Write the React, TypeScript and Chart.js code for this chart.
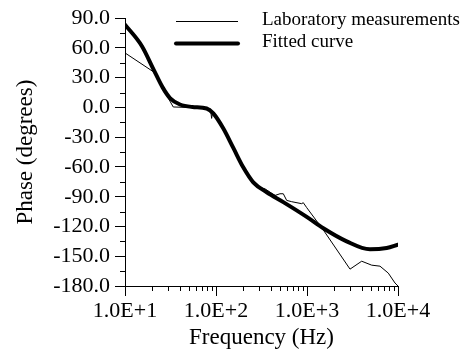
import React, { useEffect, useRef } from "react";
import { Chart, registerables } from "chart.js";

Chart.register(...registerables);

const FONT = '"Liberation Serif", "Times New Roman", Times, serif';

// Laboratory measurements (Hz, degrees)
const labFreq = [10, 20.5, 33.9, 50, 79, 87, 89.5, 92, 100, 120, 155, 200, 257, 300, 345, 445, 505, 549, 598, 679, 874, 910, 993, 1511, 2970, 3990, 5140, 6340, 7820, 9270, 10000];
const labPhase = [55, 36, 0.5, 0, -1, -1.5, -11, -4, -8, -21, -40.8, -60.6, -75.5, -80.5, -82, -88.7, -87, -87, -93.7, -95, -97, -96, -101, -123.5, -163, -155, -159, -160, -167, -177, -180];

// Fitted curve (Hz, degrees)
const fitFreq = [10, 15.3, 20.5, 26, 31.2, 40.2, 55, 79, 93.4, 120, 155, 200, 257, 361, 549, 993, 1511, 2730, 4920, 7510, 10000];
const fitPhase = [83.5, 62, 38.7, 20, 9.5, 3, 0.5, -1, -6, -21, -40.8, -60.6, -75.5, -85.5, -95.4, -110.3, -121.8, -135, -143, -141.7, -138.4];

const xTickValues = [10, 100, 1000, 10000];
const xMinorMultipliers = [2, 3, 4, 5, 6, 7, 8, 9];
const yMin = -180;
const yMax = 90;
const yStep = 30;

const seriesLabels = ["Laboratory measurements", "Fitted curve"];

const minorTicksPlugin = {
  id: "minorTicks",
  afterDraw(chart: any) {
    const { ctx, scales, chartArea } = chart;
    const x = scales.x;
    const y = scales.y;
    ctx.save();
    ctx.strokeStyle = "#000";
    ctx.lineWidth = 1;
    ctx.beginPath();
    for (let i = 0; i < xTickValues.length - 1; i++) {
      for (const m of xMinorMultipliers) {
        const px = Math.round(x.getPixelForValue(xTickValues[i] * m)) + 0.5;
        ctx.moveTo(px, chartArea.bottom);
        ctx.lineTo(px, chartArea.bottom + 5);
      }
    }
    for (let v = yMin + yStep / 2; v < yMax; v += yStep) {
      const py = Math.round(y.getPixelForValue(v)) + 0.5;
      ctx.moveTo(chartArea.left - 5, py);
      ctx.lineTo(chartArea.left, py);
    }
    ctx.stroke();
    ctx.restore();
  },
};

const legendPlugin = {
  id: "customLegend",
  afterDraw(chart: any) {
    const ctx = chart.ctx;
    const ds = chart.data.datasets;
    const lineY = [21.5, 43.5];
    const textY = [20.5, 42.5];
    ds.forEach((d: any, i: number) => {
      ctx.save();
      ctx.strokeStyle = d.borderColor;
      ctx.lineWidth = d.borderWidth;
      ctx.lineCap = d.borderWidth > 2 ? "round" : "butt";
      ctx.beginPath();
      ctx.moveTo(176, lineY[i]);
      ctx.lineTo(238, lineY[i]);
      ctx.stroke();
      ctx.fillStyle = "#000";
      ctx.font = `19px ${FONT}`;
      ctx.textBaseline = "middle";
      ctx.textAlign = "left";
      ctx.fillText(d.label, 262, textY[i]);
      ctx.restore();
    });
  },
};

export default function App() {
  const ref = useRef<HTMLCanvasElement | null>(null);

  useEffect(() => {
    if (!ref.current) return;
    Chart.defaults.font.family = FONT;
    const chart = new Chart(ref.current, {
      type: "line",
      data: {
        datasets: [
          {
            label: seriesLabels[0],
            data: labFreq.map((f, i) => ({ x: f, y: labPhase[i] })),
            borderColor: "#000",
            borderWidth: 1,
            pointRadius: 0,
            tension: 0,
          },
          {
            label: seriesLabels[1],
            data: fitFreq.map((f, i) => ({ x: f, y: fitPhase[i] })),
            borderColor: "#000",
            borderWidth: 4,
            pointRadius: 0,
            cubicInterpolationMode: "monotone",
            borderCapStyle: "round",
          },
        ],
      },
      options: {
        animation: false,
        responsive: false,
        maintainAspectRatio: false,
        layout: { padding: { left: 0, right: 70, top: 15, bottom: 0 } },
        plugins: { legend: { display: false }, tooltip: { enabled: false } },
        scales: {
          x: {
            type: "logarithmic",
            min: 10,
            max: 10000,
            afterBuildTicks: (s: any) => {
              s.ticks = xTickValues.map((v) => ({ value: v }));
            },
            afterFit: (s: any) => {
              s.height = 70;
            },
            ticks: {
              callback: (v: any) => Number(v).toExponential(1).toUpperCase(),
              color: "#000",
              font: { size: 22, family: FONT },
              padding: 2,
              maxRotation: 0,
              autoSkip: false,
            },
            grid: { drawOnChartArea: false, tickLength: 10, tickColor: "#000" },
            border: { color: "#000", width: 1 },
            title: {
              display: true,
              text: "Frequency (Hz)",
              color: "#000",
              font: { size: 23, family: FONT },
              padding: { top: 0, bottom: 4 },
            },
          },
          y: {
            type: "linear",
            min: yMin,
            max: yMax,
            afterFit: (s: any) => {
              s.width = 125;
            },
            ticks: {
              stepSize: yStep,
              callback: (v: any) => Number(v).toFixed(1),
              color: "#000",
              font: { size: 22, family: FONT },
              padding: 5,
            },
            grid: { drawOnChartArea: false, tickLength: 10, tickColor: "#000" },
            border: { color: "#000", width: 1 },
            title: {
              display: true,
              text: "Phase (degrees)",
              color: "#000",
              font: { size: 23, family: FONT },
              padding: { top: 12, bottom: 0 },
            },
          },
        },
      } as any,
      plugins: [minorTicksPlugin, legendPlugin],
    });
    let alive = true;
    const fonts: any = (document as any).fonts;
    if (fonts && fonts.load) {
      Promise.all([
        fonts.load('19px "Liberation Serif"'),
        fonts.load('22px "Liberation Serif"'),
      ])
        .then(() => {
          if (alive) chart.update();
        })
        .catch(() => {});
    }
    return () => {
      alive = false;
      chart.destroy();
    };
  }, []);

  return (
    <div style={{ position: "absolute", left: 0, top: 0, width: 468, height: 356, background: "#fff" }}>
      <canvas ref={ref} width={468} height={356} />
    </div>
  );
}
